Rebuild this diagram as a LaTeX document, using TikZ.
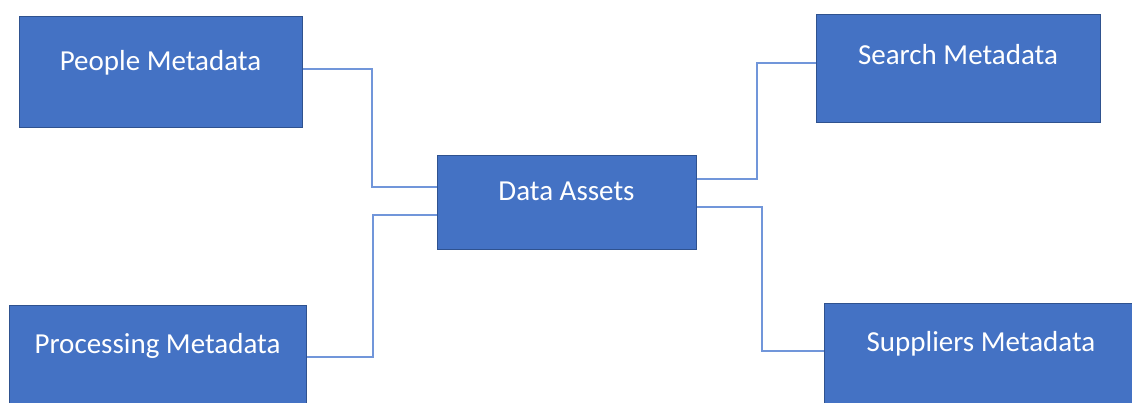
\documentclass[tikz,border=0pt]{standalone}
\usepackage{fontspec}
\setmainfont{Carlito}
\definecolor{boxfill}{HTML}{4472C4}
\definecolor{boxline}{HTML}{2F528F}
\definecolor{linkcol}{HTML}{7196DA}
\begin{document}
\begin{tikzpicture}[x=1pt,y=-1pt,
  box/.style={draw=boxline,line width=1pt,fill=boxfill,text=white,inner sep=0pt,
    font=\fontsize{29}{34}\selectfont,text height=10pt,text depth=14pt},
  link/.style={draw=linkcol,line width=2pt}]
    \useasboundingbox(0,0)rectangle(1132,402);
    \node[box,minimum width=283pt,minimum height=111pt,text depth=12pt](people)at(160.5,71.5){People Metadata};
    \node[box,minimum width=297pt,minimum height=110pt,text depth=24pt](proc)at(157.5,360){Processing Metadata};
    \node[box,minimum width=259pt,minimum height=94pt](da)at(566.5,202){Data Assets};
    \node[box,minimum width=284pt,minimum height=108pt,text depth=18pt](search)at(958,68){Search Metadata};
    \node[box,minimum width=314pt,minimum height=110pt,text depth=24pt](supp)at(981,358){Suppliers Metadata};
    \draw[link]([yshift=2.5pt]people.east)--++(69,0)|-([yshift=15pt]da.west);
    \draw[link]([yshift=3pt]proc.east)--++(66,0)|-([yshift=-13pt]da.west);
    \draw[link]([yshift=23pt]da.east)--++(60,0)|-([yshift=5pt]search.west);
    \draw[link]([yshift=-5pt]da.east)--++(65,0)|-([yshift=7pt]supp.west);
\end{tikzpicture}
\end{document}
